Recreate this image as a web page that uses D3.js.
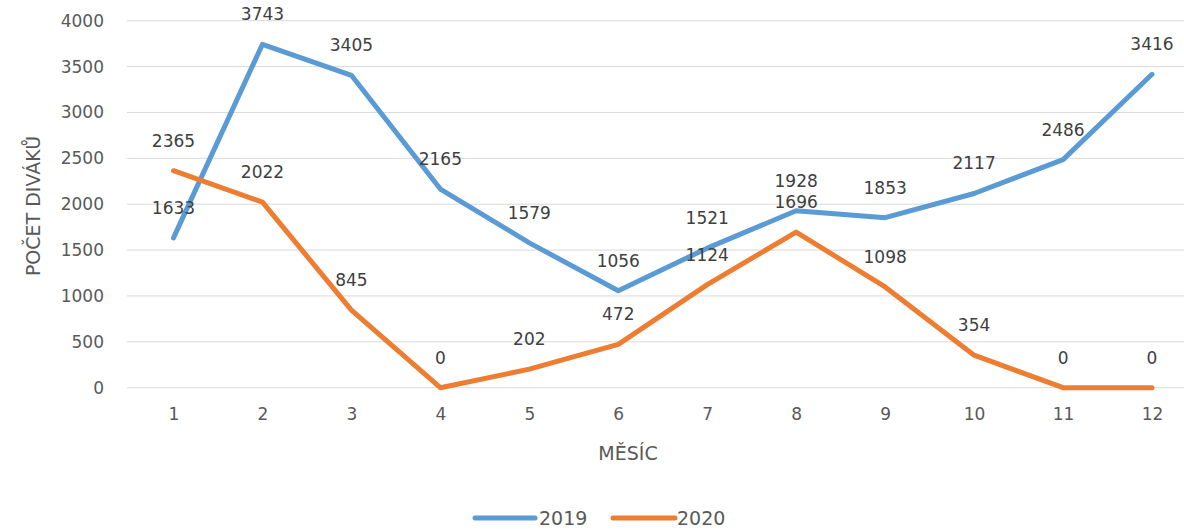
<!DOCTYPE html>
<html><head><meta charset="utf-8">
<script src="https://cdn.jsdelivr.net/npm/d3@7"></script>
<style>
body{margin:0;background:#fff;}
svg text{font-family:"DejaVu Sans",sans-serif;fill:#595959;}
</style></head>
<body><svg id="c" width="1184" height="530"></svg>
<script>
const months = [1,2,3,4,5,6,7,8,9,10,11,12];
const values2019 = [1633,3743,3405,2165,1579,1056,1521,1928,1853,2117,2486,3416];
const values2020 = [2365,2022,845,0,202,472,1124,1696,1098,354,0,0];
const yTicks = [0,500,1000,1500,2000,2500,3000,3500,4000];
const seriesNames = ["2019","2020"];
const colors = ["#5B9BD5","#ED7D31"];

const svg = d3.select("#c");
const x = d3.scalePoint().domain(months).range([173.5,1152]);
const y = d3.scaleLinear().domain([0,4000]).range([387.7,20.7]);
const gridL = 127, gridR = 1184;

svg.append("g").selectAll("line").data(yTicks).join("line")
  .attr("x1",gridL).attr("x2",gridR)
  .attr("y1",d=>y(d)).attr("y2",d=>y(d))
  .attr("stroke","#d9d9d9").attr("stroke-width",1);

const yAxis = d3.axisLeft(y).tickValues(yTicks).tickSize(0).tickPadding(0).tickFormat(d3.format("d"));
const gy = svg.append("g").attr("transform","translate(104,0)").call(yAxis);
gy.select(".domain").remove();
gy.selectAll("text").attr("font-size",17).style("font-family","DejaVu Sans").attr("fill","#595959");

const xAxis = d3.axisBottom(x).tickSize(0).tickPadding(0);
const gx = svg.append("g").attr("transform","translate(0,408)").call(xAxis);
gx.select(".domain").remove();
gx.selectAll("text").attr("font-size",17).style("font-family","DejaVu Sans").attr("fill","#595959");

svg.append("text").attr("x",628).attr("y",460).attr("text-anchor","middle")
  .attr("font-size",19).text("MĚSÍC");
svg.append("text").attr("transform","translate(40,206) rotate(-90)").attr("text-anchor","middle")
  .attr("font-size",19).text("POČET DIVÁKŮ");

const line = d3.line().x((d,i)=>x(months[i])).y(d=>y(d));
const all = [values2019, values2020];
all.forEach((vals,si)=>{
  svg.append("path").datum(vals).attr("d",line)
    .attr("fill","none").attr("stroke",colors[si]).attr("stroke-width",5)
    .attr("stroke-linejoin","round").attr("stroke-linecap","round");
});
all.forEach((vals,si)=>{
  svg.append("g").selectAll("text").data(vals).join("text")
    .attr("x",(d,i)=>x(months[i])).attr("y",d=>y(d)-24)
    .attr("text-anchor","middle").attr("font-size",17).style("fill","#404040")
    .text(d=>d);
});

const leg = [{x1:475,x2:535,tx:539},{x1:613,x2:675,tx:677}];
leg.forEach((l,i)=>{
  svg.append("line").attr("x1",l.x1).attr("x2",l.x2).attr("y1",518).attr("y2",518)
    .attr("stroke",colors[i]).attr("stroke-width",5).attr("stroke-linecap","round");
  svg.append("text").attr("x",l.tx).attr("y",525).attr("font-size",19).text(seriesNames[i]);
});
</script></body></html>
